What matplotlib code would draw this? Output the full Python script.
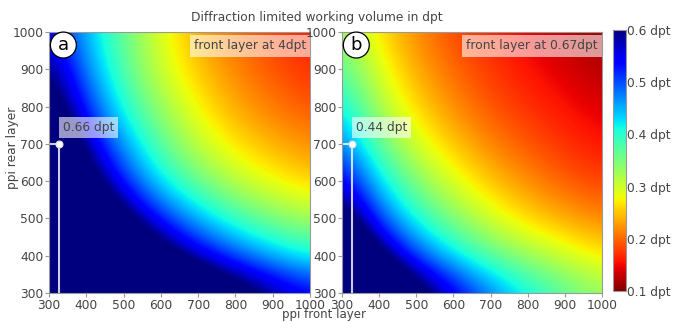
import numpy as np
import matplotlib.pyplot as plt

plt.rcParams["font.family"] = ["DejaVu Sans"]

ppi_front = [300, 400, 500, 600, 700, 800, 900, 1000]
ppi_rear = [300, 400, 500, 600, 700, 800, 900, 1000]

# working volume in dpt, rows = rear layer 300..1000, cols = front layer 300..1000
vol_4dpt = np.array([
    [1.70, 1.30, 1.05, 0.88, 0.75, 0.67, 0.60, 0.55],
    [1.30, 1.00, 0.79, 0.65, 0.56, 0.495, 0.445, 0.41],
    [1.05, 0.79, 0.63, 0.52, 0.445, 0.39, 0.35, 0.325],
    [0.88, 0.65, 0.52, 0.42, 0.36, 0.31, 0.28, 0.255],
    [0.75, 0.575, 0.455, 0.37, 0.305, 0.265, 0.24, 0.22],
    [0.67, 0.515, 0.405, 0.33, 0.275, 0.235, 0.21, 0.19],
    [0.61, 0.47, 0.375, 0.30, 0.25, 0.215, 0.19, 0.17],
    [0.55, 0.445, 0.36, 0.29, 0.235, 0.205, 0.18, 0.16],
])
vol_067dpt = np.array([
    [1.09, 0.82, 0.66, 0.56, 0.48, 0.42, 0.375, 0.335],
    [0.82, 0.62, 0.50, 0.425, 0.37, 0.33, 0.30, 0.27],
    [0.66, 0.50, 0.405, 0.345, 0.295, 0.26, 0.235, 0.215],
    [0.56, 0.425, 0.345, 0.29, 0.25, 0.22, 0.195, 0.18],
    [0.48, 0.365, 0.295, 0.25, 0.215, 0.19, 0.17, 0.155],
    [0.42, 0.32, 0.26, 0.22, 0.19, 0.17, 0.155, 0.14],
    [0.375, 0.29, 0.235, 0.20, 0.175, 0.155, 0.14, 0.125],
    [0.335, 0.265, 0.22, 0.185, 0.165, 0.145, 0.13, 0.11],
])

panel_letters = ["a", "b"]
panel_notes = ["front layer at 4dpt", "front layer at 0.67dpt"]
marker_front = 326
marker_rear = 700
marker_labels = ["0.66 dpt", "0.44 dpt"]
cbar_ticks = [0.1, 0.2, 0.3, 0.4, 0.5, 0.6]

text_col = "#444444"
spine_col = "#999999"
fs = 8.8

W, H = 690, 322
fig = plt.figure(figsize=(W / 100, H / 100), dpi=100)
ax_a = fig.add_axes([49 / W, 29 / H, 261 / W, 261 / H])
ax_b = fig.add_axes([342 / W, 29 / H, 260 / W, 261 / H])
cax = fig.add_axes([613 / W, 31 / H, 13 / W, 261 / H])

step = ppi_front[1] - ppi_front[0]
ext = [ppi_front[0] - step / 2, ppi_front[-1] + step / 2,
       ppi_rear[0] - step / 2, ppi_rear[-1] + step / 2]

for ax, data, letter, note, mlabel in zip(
        [ax_a, ax_b], [vol_4dpt, vol_067dpt], panel_letters, panel_notes, marker_labels):
    im = ax.imshow(data, origin="lower", extent=ext, aspect="auto", cmap="jet_r",
                   vmin=0.1, vmax=0.6, interpolation="bicubic",
                   interpolation_stage="data")
    ax.set_xlim(ppi_front[0], ppi_front[-1])
    ax.set_ylim(ppi_rear[0], ppi_rear[-1])
    ax.set_xticks(ppi_front)
    ax.set_yticks(ppi_rear)
    ax.tick_params(labelsize=fs, labelcolor=text_col, length=3, width=0.8,
                   pad=1, color=spine_col)
    for s in ax.spines.values():
        s.set_color(spine_col)
        s.set_linewidth(0.8)

    # guide lines to the marked point
    ax.plot([marker_front, marker_front], [ppi_rear[0], marker_rear],
            color="white", lw=1.5, alpha=0.8, solid_capstyle="butt")
    ax.plot([ppi_front[0], marker_front], [marker_rear, marker_rear],
            color="white", lw=1.5, alpha=0.8, solid_capstyle="butt")
    ax.plot(marker_front, marker_rear, "o", ms=5, mfc="white", mec="#dddddd", mew=0.8)
    ax.annotate(mlabel, (marker_front, marker_rear), xytext=(3, 7),
                textcoords="offset points", ha="left", va="bottom",
                fontsize=fs, color=text_col,
                bbox=dict(boxstyle="square,pad=0.3", fc="white", ec="none", alpha=0.6))

    ax.text(0.985, 0.972, note, transform=ax.transAxes, ha="right", va="top",
            fontsize=fs, color=text_col,
            bbox=dict(boxstyle="square,pad=0.35", fc="white", ec="none", alpha=0.6))
    ax.text(0.055, 0.95, letter, transform=ax.transAxes, ha="center", va="center",
            fontsize=13, color="black",
            bbox=dict(boxstyle="circle,pad=0.22", fc="white", ec="black", lw=0.9))

cb = fig.colorbar(im, cax=cax, ticks=cbar_ticks)
cb.ax.set_yticklabels([f"{t:.1f} dpt" for t in cbar_ticks])
cb.ax.tick_params(labelsize=fs, labelcolor=text_col, length=0, pad=1)
cb.outline.set_edgecolor(spine_col)
cb.outline.set_linewidth(0.8)

fig.text(317 / W, 1 - 17 / H, "Diffraction limited working volume in dpt",
         ha="center", va="center", fontsize=fs, color=text_col)
fig.text(324 / W, 1 - 314.5 / H, "ppi front layer", ha="center", va="center",
         fontsize=8.5, color=text_col)
fig.text(13 / W, 1 - 148 / H, "ppi rear layer", ha="center", va="center",
         rotation=90, fontsize=fs, color=text_col)

fig.savefig("out.png", dpi=100)
